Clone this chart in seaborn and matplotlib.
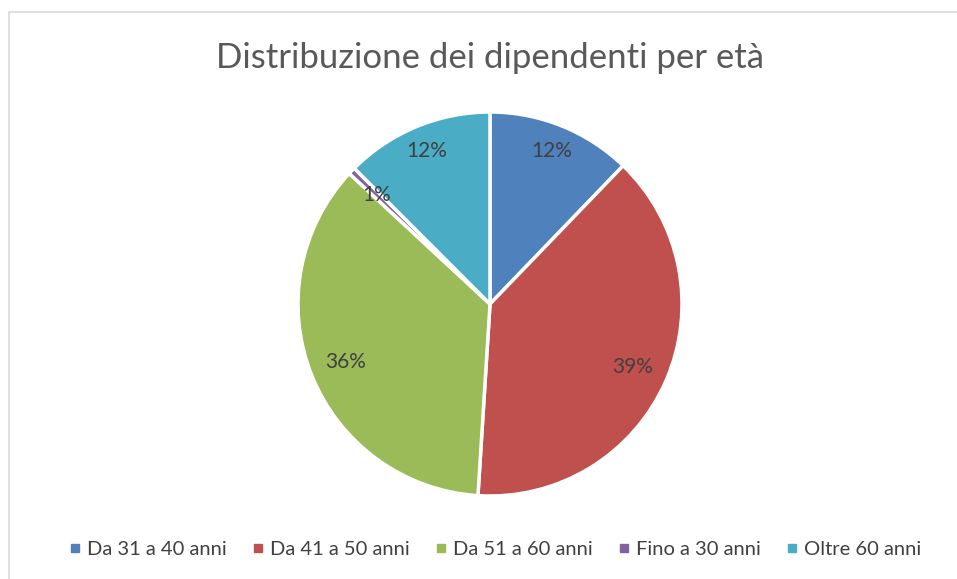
import matplotlib
matplotlib.use("Agg")
import matplotlib.pyplot as plt
from matplotlib.lines import Line2D
from matplotlib.patches import Rectangle
import seaborn as sns

# dati
categorie = ["Da 31 a 40 anni", "Da 41 a 50 anni", "Da 51 a 60 anni", "Fino a 30 anni", "Oltre 60 anni"]
percentuali = [12.2, 38.8, 35.9, 0.6, 12.5]
colori = ["#4F81BD", "#C0504D", "#9BBB59", "#8064A2", "#4BACC6"]

sns.set_theme(style="white")
plt.rcParams['font.family'] = ['Lato', 'DejaVu Sans']

fig = plt.figure(figsize=(9.57, 5.79), dpi=100)
W, H = 957, 579

# cornice del grafico
fig.patches.append(Rectangle((9 / W, -0.1), 1.1, 1 - 12 / H + 0.1, transform=fig.transFigure,
                             fill=False, edgecolor="#D9D9D9", linewidth=1.2))

ax = fig.add_axes([(490 - 192) / W, (579 - 496) / H, 384 / W, 384 / H])
palette = sns.color_palette(colori)
wedges, testi, autotesti = ax.pie(percentuali, colors=palette, startangle=90, counterclock=False,
                                  autopct='%.0f%%', pctdistance=0.83,
                                  wedgeprops={'edgecolor': 'white', 'linewidth': 2.5},
                                  textprops={'fontsize': 15, 'color': '#404040'})
ax.set_xlim(-1, 1)
ax.set_ylim(-1, 1)
ax.set_aspect('equal')

# distanza etichette come in Excel
for t, d in zip(autotesti, [0.86, 0.81, 0.81, 0.82, 0.86]):
    x, y = t.get_position()
    r = (x ** 2 + y ** 2) ** 0.5
    t.set_position((x / r * d, y / r * d))

fig.text(490 / W, 1 - 58 / H, "Distribuzione dei dipendenti per età", ha='center', va='center',
         fontsize=25, color='#595959')

handles = [Line2D([0], [0], marker='s', linestyle='', markersize=6, markerfacecolor=c,
                  markeredgecolor=c) for c in colori]
fig.legend(handles, categorie, loc='center', bbox_to_anchor=(494 / W, 1 - 549 / H), ncol=5,
           frameon=False, fontsize=14.5, handletextpad=0.2, columnspacing=1.15, handlelength=0.8,
           labelcolor='#404040')

plt.savefig("out.png", dpi=100)
